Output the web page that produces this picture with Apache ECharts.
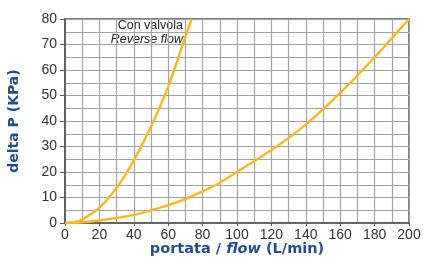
<!DOCTYPE html>
<html>
<head>
<meta charset="utf-8">
<script src="https://cdn.jsdelivr.net/npm/echarts@6/dist/echarts.min.js"></script>
<style>
  html, body { margin: 0; padding: 0; background: #fff; }
  #chart { width: 423px; height: 258px; }
</style>
</head>
<body>
<div id="chart"></div>
<script>
// curva con valvola (reverse flow) e curva standard
const valveFlow = [0, 5, 10, 20, 30, 40, 50, 60, 70, 73.6]
const valveDp   = [0, 0.3, 1.4, 6, 13.8, 24.5, 37.8, 53.5, 73, 80]
const stdFlow = [0, 10, 20, 30, 40, 50, 60, 70, 80, 90, 100, 120, 140, 160, 180, 200]
const stdDp   = [0, 0.3, 1, 2, 3.2, 5, 7, 9.5, 12.4, 15.8, 20, 28.6, 38.6, 51, 65, 80]
const noteLines = ['Con valvola', 'Reverse flow']

const AXIS_BLUE = '#1f4e92'
const GRID = '#a3a3a3'
const FONT = 'Liberation Sans, Arial'
const NAME_FONT = 'DejaVu Sans'

const pairs = (xs, ys) => xs.map((x, i) => [x, ys[i]])

const chart = echarts.init(document.getElementById('chart'))

const axisCommon = {
  axisLine: { show: true, lineStyle: { color: '#555', width: 1.5 } },
  axisTick: { show: true, length: 5, lineStyle: { color: '#555' } },
  splitLine: { show: true, lineStyle: { color: GRID, width: 1.2 } },
  minorTick: { show: false, splitNumber: 2 },
  minorSplitLine: { show: true, lineStyle: { color: GRID, width: 1.2 } },
  axisLabel: { color: '#333', fontSize: 14, fontFamily: FONT }
}

chart.setOption({
  animation: false,
  grid: {
    left: 65, right: 14, top: 19, bottom: 35,
    outerBoundsMode: 'none', containLabel: false,
    show: true, borderColor: '#555', borderWidth: 1.5
  },
  xAxis: {
    type: 'value', min: 0, max: 200, interval: 20,
    ...axisCommon,
    axisTick: { ...axisCommon.axisTick, length: 3 },
    axisLabel: { ...axisCommon.axisLabel, margin: 5 },
    name: '{b|portata / }{i|flow}{b| (L/min)}',
    nameLocation: 'middle', nameGap: 26, nameMoveOverlap: false,
    nameTextStyle: {
      verticalAlign: 'middle',
      rich: {
        b: { fontSize: 14.5, fontWeight: 'bold', color: AXIS_BLUE, fontFamily: NAME_FONT },
        i: { fontSize: 14.5, fontWeight: 'bold', fontStyle: 'italic', color: AXIS_BLUE, fontFamily: NAME_FONT }
      }
    }
  },
  yAxis: {
    type: 'value', min: 0, max: 80, interval: 10,
    ...axisCommon,
    axisLabel: { ...axisCommon.axisLabel, margin: 8 },
    name: 'delta P (KPa)',
    nameLocation: 'middle', nameGap: 51, nameMoveOverlap: false,
    nameTextStyle: { fontSize: 14, fontWeight: 'bold', color: AXIS_BLUE, fontFamily: NAME_FONT, verticalAlign: 'middle' }
  },
  series: [
    {
      type: 'line', data: pairs(valveFlow, valveDp), smooth: 0.3,
      symbol: 'none', lineStyle: { color: '#fbb818', width: 2.4 }, z: 5
    },
    {
      type: 'line', data: pairs(stdFlow, stdDp), smooth: 0.3,
      symbol: 'none', lineStyle: { color: '#fbb818', width: 2.4 }, z: 5
    }
  ],
  graphic: [
    {
      type: 'text', right: 423 - 183, top: 19,
      style: {
        text: noteLines[0], fill: '#222', fontSize: 12.5,
        fontFamily: FONT, align: 'right'
      }
    },
    {
      type: 'text', right: 423 - 183, top: 33,
      style: {
        text: noteLines[1], fill: '#222', fontSize: 12.5, fontStyle: 'italic',
        fontFamily: FONT, align: 'right'
      }
    }
  ]
})
</script>
</body>
</html>
